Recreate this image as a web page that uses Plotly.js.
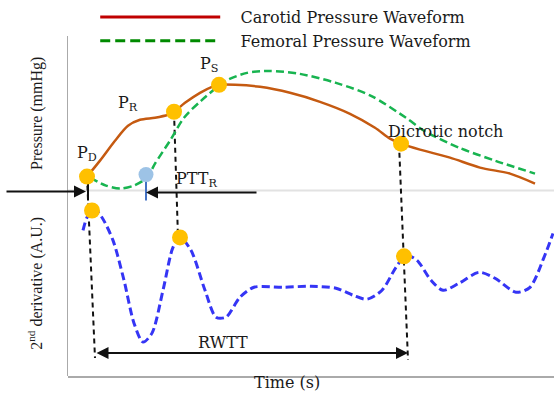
<!DOCTYPE html>
<html>
<head>
<meta charset="utf-8">
<script src="https://cdn.plot.ly/plotly-3.0.1.min.js"></script>
<style>html,body{margin:0;padding:0;background:#fff;}#chart{width:554px;height:397px;}</style>
</head>
<body>
<div id="chart"></div>
<script>
// ---- data (time in arbitrary ms-like units, values in arbitrary units) ----
const carotidT = [19,32,47,60,72,87,100,106,117,132,144,151,167,192,222,252,282,307,322,333,352,382,412,442,467];
const carotidP = [14,30,50,65,71,73,76,79,88,98,104,106,106,104,98,89,77,63,52,47,41,33,23,17,7];

const femoralT = [22,38,52,66,79,87,102,116,133,158,179,201,232,268,303,338,356,391,427,467];
const femoralP = [13,5,2,5,13,27,50,73,90,110,118,120,117,108,95,73,60,43,30,17];

const derivT = [15,19,26,34,45,56,66,75,84,95,105,112,123,137,148,158,172,186,215,243,268,285,299,314,328,338,349,363,375,391,411,427,448,462,476,485];
const derivV = [146,159,168,159,136,96,53,34,43,86,129,139,126,86,59,59,79,89,89,90,88,81,77,86,109,121,116,96,86,93,104,98,84,89,119,143];

// key points: P_D, P_R, P_S, dicrotic notch (carotid)
const keyT = [19,106,151,333];
const keyP = [14,79,106,47];
// femoral foot
const footT = [78];
const footP = [16];
// 2nd derivative features
const dKeyT = [24,112,336];
const dKeyV = [166,139,120];
// RWTT interval (start, end) and level on derivative panel
const rwttT = [27,340];
const rwttLevel = 23;
const pttArrowTail = 190;
const leftArrowTail = -63;

const legendNames = ['Carotid Pressure Waveform', 'Femoral Pressure Waveform'];

const PANEL_SPLIT = 186;   // height (units) of derivative panel
const TOP_RANGE = 155;
const FULL = PANEL_SPLIT + TOP_RANGE;
const top2full = v => v + PANEL_SPLIT;

const SERIF = 'Liberation Serif';
const WIDE_SERIF = 'DejaVu Serif';
const GOLD = '#FFC000';
const INK = '#1a1a1a';

const traces = [];
const conn = {color:'#111', width:2, dash:'5px,4px'};
// connectors on full overlay axis (y)
traces.push({x:[keyT[0], rwttT[0]], y:[top2full(keyP[0]), rwttLevel-5], xaxis:'x', yaxis:'y', mode:'lines',
  line:conn, showlegend:false, hoverinfo:'skip'});
traces.push({x:[keyT[1], dKeyT[1]-2], y:[top2full(keyP[1]), dKeyV[1]], xaxis:'x', yaxis:'y', mode:'lines',
  line:conn, showlegend:false, hoverinfo:'skip'});
traces.push({x:[keyT[3]-2, rwttT[1]], y:[top2full(keyP[3]), rwttLevel-7], xaxis:'x', yaxis:'y', mode:'lines',
  line:conn, showlegend:false, hoverinfo:'skip'});
// PD tick
traces.push({x:[keyT[0]+1, keyT[0]+1], y:[top2full(keyP[0])-4, PANEL_SPLIT-10], xaxis:'x', yaxis:'y', mode:'lines',
  line:{color:'#111', width:2}, showlegend:false, hoverinfo:'skip'});
// femoral foot stick
traces.push({x:[footT[0], footT[0]], y:[top2full(footP[0]), PANEL_SPLIT-10], xaxis:'x', yaxis:'y', mode:'lines',
  line:{color:'#4472C4', width:2}, showlegend:false, hoverinfo:'skip'});

// curves
traces.push({x:carotidT, y:carotidP, xaxis:'x', yaxis:'y2', mode:'lines', line:{color:'#C55A11', width:2.5, shape:'spline', smoothing:0.8},
  showlegend:false, hoverinfo:'skip'});
traces.push({x:femoralT, y:femoralP, xaxis:'x', yaxis:'y2', mode:'lines', line:{color:'#18B450', width:2.5, dash:'8px,4px', shape:'spline', smoothing:0.8},
  showlegend:false, hoverinfo:'skip'});
traces.push({x:derivT, y:derivV, xaxis:'x', yaxis:'y3', mode:'lines', line:{color:'#3535F5', width:3, dash:'8px,4px', shape:'spline', smoothing:0.8},
  showlegend:false, hoverinfo:'skip'});

// dots
traces.push({x:keyT, y:keyP, xaxis:'x', yaxis:'y2', mode:'markers', marker:{color:GOLD, size:16}, showlegend:false, hoverinfo:'skip', cliponaxis:false});
traces.push({x:footT, y:footP, xaxis:'x', yaxis:'y2', mode:'markers', marker:{color:'#9DC3E6', size:15}, showlegend:false, hoverinfo:'skip', cliponaxis:false});
traces.push({x:dKeyT, y:dKeyV, xaxis:'x', yaxis:'y3', mode:'markers', marker:{color:GOLD, size:16}, showlegend:false, hoverinfo:'skip', cliponaxis:false});

// legend entries
const pad = '\u00a0\u00a0\u00a0';
traces.push({x:[null], y:[null], xaxis:'x', yaxis:'y2', mode:'lines', name:pad + legendNames[0], line:{color:'#C00000', width:3}});
traces.push({x:[null], y:[null], xaxis:'x', yaxis:'y2', mode:'lines', name:pad + legendNames[1], line:{color:'#008A00', width:3, dash:'10px,5px'}});

const txt = (t, x, y, yref, extra) => Object.assign({text:t, x:x, y:y, xref:'x', yref:yref, showarrow:false,
  font:{family:WIDE_SERIF, size:16, color:INK}}, extra||{});

const annotations = [
  txt('P<sub>D</sub>', 19, 37, 'y2'),
  txt('P<sub>R</sub>', 60, 87, 'y2'),
  txt('P<sub>S</sub>', 141, 126, 'y2'),
  txt('Dicrotic notch', 377, 59, 'y2'),
  txt('PTT<sub>R</sub>', 128, 11, 'y2'),
  txt('RWTT', 155, 34, 'y3'),
  txt('Time (s)', 219, 0, 'paper', {yanchor:'middle', yshift:-6}),
  // arrows
  {x:keyT[0]-1, y:PANEL_SPLIT-1, xref:'x', yref:'y', ax:leftArrowTail, ay:PANEL_SPLIT-1, axref:'x', ayref:'y', text:'',
    showarrow:true, arrowhead:2, arrowsize:1.2, arrowwidth:2, arrowcolor:'#111'},
  {x:footT[0], y:PANEL_SPLIT-2, xref:'x', yref:'y', ax:pttArrowTail, ay:PANEL_SPLIT-2, axref:'x', ayref:'y', text:'',
    showarrow:true, arrowhead:2, arrowsize:1.2, arrowwidth:2, arrowcolor:'#111'},
  {x:rwttT[1], y:rwttLevel, xref:'x', yref:'y', ax:rwttT[0], ay:rwttLevel, axref:'x', ayref:'y', text:'',
    showarrow:true, arrowhead:2, arrowside:'end+start', arrowsize:1.2, arrowwidth:2, arrowcolor:'#111'}
];

const layout = {
  width:554, height:397,
  margin:{l:68, r:0, t:35, b:21, pad:0},
  paper_bgcolor:'#fff', plot_bgcolor:'rgba(0,0,0,0)',
  font:{family:SERIF, size:15, color:INK},
  showlegend:true,
  legend:{x:0.056, y:1.107, xanchor:'left', yanchor:'top', bgcolor:'rgba(0,0,0,0)', itemwidth:120,
    font:{family:WIDE_SERIF, size:16, color:INK}, tracegroupgap:0},
  xaxis:{range:[0,486], showline:true, linecolor:'#aaa', linewidth:1.5, showticklabels:false, ticks:'', showgrid:false, zeroline:false,
    anchor:'y'},
  yaxis:{domain:[0,1], range:[0,FULL], visible:false, fixedrange:true},
  yaxis2:{domain:[PANEL_SPLIT/FULL,1], range:[0,TOP_RANGE], anchor:'x', showline:true, linecolor:'#aaa', linewidth:1.5,
    showticklabels:false, ticks:'', showgrid:false, zeroline:false,
    title:{text:'Pressure (mmHg)', font:{family:SERIF, size:16, color:INK}, standoff:20}},
  yaxis3:{domain:[0,PANEL_SPLIT/FULL], range:[0,PANEL_SPLIT], anchor:'x', showline:true, linecolor:'#aaa', linewidth:1.5,
    showticklabels:false, ticks:'', showgrid:false, zeroline:false,
    title:{text:'2<sup>nd</sup> derivative (A.U.)', font:{family:SERIF, size:16, color:INK}, standoff:20}},
  shapes:[{type:'line', xref:'paper', yref:'paper', x0:0, x1:1, y0:PANEL_SPLIT/FULL, y1:PANEL_SPLIT/FULL,
    line:{color:'#e2e2e2', width:2}, layer:'below'}],
  annotations:annotations
};

Plotly.newPlot('chart', traces, layout, {staticPlot:true, displayModeBar:false});
</script>
</body>
</html>
